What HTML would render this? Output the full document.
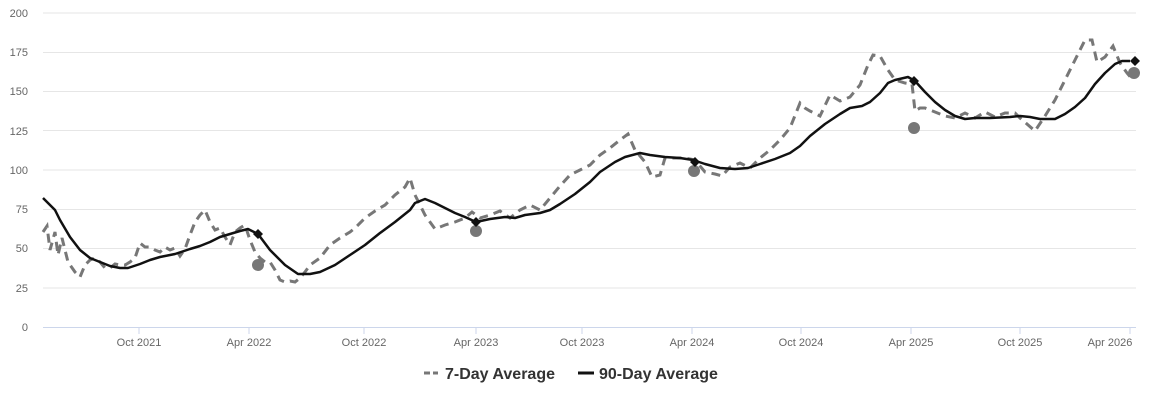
<!DOCTYPE html><html><head><style>body{margin:0;background:#fff;font-family:"Liberation Sans",sans-serif}</style></head><body>
<svg width="1150" height="401" xmlns="http://www.w3.org/2000/svg" font-family="Liberation Sans, sans-serif">
<g stroke="#e6e6e6" stroke-width="1">
<line x1="43" x2="1136" y1="13" y2="13"/><line x1="43" x2="1136" y1="52.5" y2="52.5"/><line x1="43" x2="1136" y1="91.5" y2="91.5"/><line x1="43" x2="1136" y1="130.5" y2="130.5"/><line x1="43" x2="1136" y1="170" y2="170"/><line x1="43" x2="1136" y1="209.5" y2="209.5"/><line x1="43" x2="1136" y1="248.5" y2="248.5"/><line x1="43" x2="1136" y1="288" y2="288"/>
</g>
<line x1="43" x2="1136" y1="327.5" y2="327.5" stroke="#ccd6eb"/>
<g stroke="#ccd6eb"><line x1="139" x2="139" y1="327" y2="334"/><line x1="249" x2="249" y1="327" y2="334"/><line x1="364" x2="364" y1="327" y2="334"/><line x1="476" x2="476" y1="327" y2="334"/><line x1="582" x2="582" y1="327" y2="334"/><line x1="692" x2="692" y1="327" y2="334"/><line x1="801" x2="801" y1="327" y2="334"/><line x1="911" x2="911" y1="327" y2="334"/><line x1="1020" x2="1020" y1="327" y2="334"/><line x1="1130" x2="1130" y1="327" y2="334"/></g>
<g font-size="11" fill="#666" text-anchor="end"><text x="28" y="17">200</text><text x="28" y="56">175</text><text x="28" y="95">150</text><text x="28" y="135">125</text><text x="28" y="174">100</text><text x="28" y="213">75</text><text x="28" y="252">50</text><text x="28" y="292">25</text><text x="28" y="331">0</text></g>
<g font-size="11" fill="#666" text-anchor="middle"><text x="139" y="346">Oct 2021</text><text x="249" y="346">Apr 2022</text><text x="364" y="346">Oct 2022</text><text x="476" y="346">Apr 2023</text><text x="582" y="346">Oct 2023</text><text x="692" y="346">Apr 2024</text><text x="801" y="346">Oct 2024</text><text x="911" y="346">Apr 2025</text><text x="1020" y="346">Oct 2025</text><text x="1110" y="346">Apr 2026</text></g>
<polyline fill="none" stroke="#777" stroke-width="3" stroke-dasharray="9,6" points="43,232 47,226 50,250 55,232 58,255 62,238 68,262 75,272 80,277 85,265 90,260 95,258 100,262 105,268 110,268 115,264 120,265 125,265 130,262 135,258 140,243 145,247 150,247 155,250 160,252 165,247 170,250 175,248 180,256 185,249 190,235 195,222 200,215 205,210 210,222 215,230 220,228 225,237 230,245 235,232 240,228 245,225 250,240 255,252 260,258 265,262 270,262 275,270 280,280 285,282 290,281 295,282 300,278 305,272 310,265 320,258 330,245 340,238 350,232 355,228 365,218 375,211 385,205 395,195 405,187 410,178 415,195 425,215 435,229 445,225 455,222 465,218 472,212 480,218 490,215 500,211 510,218 520,210 530,205 540,210 550,198 560,186 570,175 580,170 590,165 600,155 610,148 620,140 628,134 635,150 645,162 652,177 660,175 665,158 675,158 685,158 695,160 705,172 715,174 722,176 730,167 740,163 750,168 760,158 770,150 780,140 790,128 800,103 805,108 810,111 820,116 830,95 840,101 850,97 860,85 868,65 873,55 880,56 888,70 895,80 905,83 912,84 915,111 920,108 925,108 935,112 945,116 955,118 965,113 975,118 985,112 995,117 1005,113 1015,113 1020,118 1035,131 1045,116 1055,100 1065,80 1075,60 1085,40 1092,40 1097,62 1105,57 1113,46 1120,63 1127,73 1132,79"/>
<polyline fill="none" stroke="#111" stroke-width="2.5" stroke-linejoin="round" points="43,198 50,205 55,210 60,220 70,237 80,250 90,258 100,262 110,266 120,268 128,268 140,264 150,260 160,257 175,254 190,249 200,246 210,242 220,237 230,234 240,231 248,229 258,234 270,250 285,265 298,274 310,274 320,272 335,265 350,255 365,245 380,233 395,222 410,210 415,203 425,199 435,203 445,208 455,213 465,217 476,222 490,219 505,217 515,218 525,215 540,213 550,210 560,204 575,194 590,182 600,172 615,162 625,157 640,153 650,155 665,157 680,158 693,160 705,164 720,168 735,169 748,168 760,164 775,159 790,153 800,146 810,136 825,124 840,114 850,108 862,106 870,102 880,93 888,83 895,80 908,77 915,81 925,92 935,102 945,110 955,116 965,119 975,118 990,118 1010,117 1020,116 1030,117 1040,119 1055,119 1065,114 1075,107 1085,98 1095,84 1105,73 1115,64 1122,61 1130,61"/>
<g fill="#777"><circle cx="258" cy="265" r="6"/><circle cx="476" cy="231" r="6"/><circle cx="694" cy="171" r="6"/><circle cx="914" cy="128" r="6"/><circle cx="1134" cy="73" r="6"/></g>
<g fill="#111"><path d="M258,229l5,5l-5,5l-5,-5z"/><path d="M476,217l5,5l-5,5l-5,-5z"/><path d="M695,157l5,5l-5,5l-5,-5z"/><path d="M914,76l5,5l-5,5l-5,-5z"/><path d="M1135,56l5,5l-5,5l-5,-5z"/></g>
<line x1="424" x2="438" y1="373" y2="373" stroke="#777" stroke-width="3" stroke-dasharray="6,3"/>
<text x="445" y="379" font-size="16" font-weight="bold" fill="#333">7-Day Average</text>
<line x1="578" x2="594" y1="373" y2="373" stroke="#111" stroke-width="3"/>
<text x="599" y="379" font-size="16" font-weight="bold" fill="#333">90-Day Average</text>
</svg></body></html>
